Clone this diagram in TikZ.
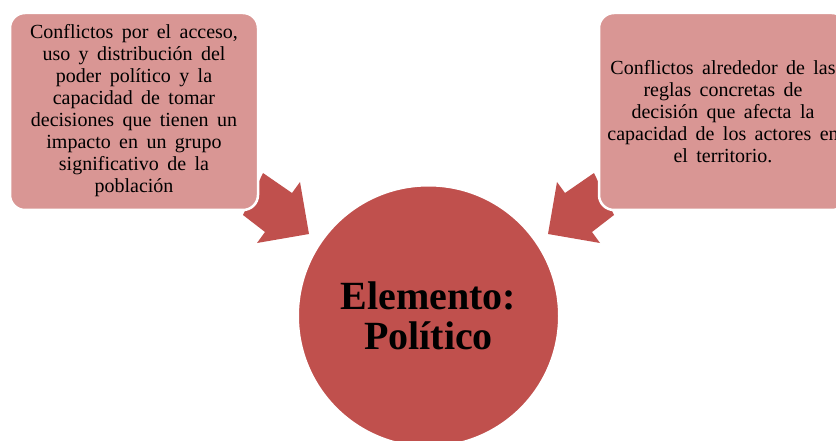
\documentclass[tikz,border=0pt]{standalone}
\usepackage{fontspec}
\setmainfont{Liberation Serif}
\definecolor{boxred}{HTML}{D99694}
\definecolor{darkred}{HTML}{C0504D}
\newcommand{\boxfontset}{\fontsize{20}{22}\selectfont\spaceskip=0.42em plus 0.1em\relax}
\begin{document}
\begin{tikzpicture}[x=1pt,y=-1pt,
  sidebox/.style={draw=white,line width=2.5pt,fill=boxred,rounded corners=15pt},
  arrowshape/.style={fill=darkred,draw=none},
  boxtext/.style={align=center,font=\boxfontset,inner sep=0pt},
  hub/.style={circle,draw=white,line width=2pt,fill=darkred,minimum size=261pt,inner sep=0pt,
    align=center,font=\fontsize{40}{40}\selectfont\bfseries}]
\useasboundingbox (0,0) rectangle (836,441);
\clip (0,0) rectangle (836,441);
% arrows
\fill[arrowshape] (263,173) -- (292,193) -- (300,182) -- (309,234) -- (257,243) -- (265,232) -- (243,215) -- cycle;
\fill[arrowshape] (594,173) -- (565,193) -- (557,182) -- (548,234) -- (600,243) -- (592,232) -- (614,215) -- cycle;
% boxes
\draw[sidebox] (10,13) rectangle (258,210);
\node[boxtext] (left) at (134,111) {Conflictos por el acceso,\\uso y distribución del\\poder político y la\\capacidad de tomar\\decisiones que tienen un\\impacto en un grupo\\significativo de la\\población};
\draw[sidebox] (599,13) rectangle (847,210);
\node[boxtext] (right) at (723,112) {Conflictos alrededor de las\\reglas concretas de\\decisión que afecta la\\capacidad de los actores en\\el territorio.};
% circle
\node[hub] (hubnode) at (428.5,316) {Elemento:\\Político};
\end{tikzpicture}
\end{document}
